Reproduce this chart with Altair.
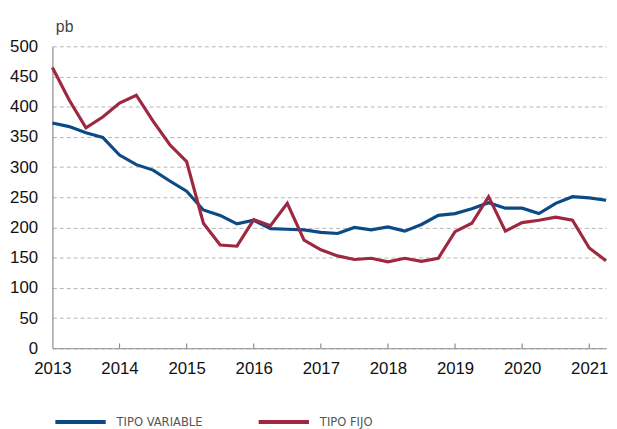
import altair as alt
import pandas as pd

# Quarterly observations, 2013 Q1 .. 2021 Q2
quarters = [2013 + q / 4 for q in range(34)]
tipo_variable = [373, 367, 357, 349, 320, 304, 295, 277, 260, 229, 220, 206,
                 212, 198, 197, 196, 192, 190, 200, 196, 201, 194, 205, 220,
                 223, 231, 241, 232, 232, 223, 240, 251, 249, 245]
tipo_fijo = [465, 411, 365, 383, 406, 419, 376, 337, 309, 207, 171, 169,
             213, 203, 240, 179, 163, 153, 147, 149, 143, 149, 144, 149,
             193, 207, 251, 194, 208, 212, 217, 212, 166, 145]
series = ["TIPO VARIABLE", "TIPO FIJO"]
colors = ["#0b4a85", "#9e2840"]
years = list(range(2013, 2022))
y_ticks = list(range(0, 501, 50))

df = pd.DataFrame({
    "t": quarters * 2,
    "v": tipo_variable + tipo_fijo,
    "s": [series[0]] * len(quarters) + [series[1]] * len(quarters),
})
ticks_df = pd.DataFrame({"t": years[1:], "y0": [0] * (len(years) - 1), "y1": [8] * (len(years) - 1)})

FONT = "Liberation Sans"
LEGEND_FONT = "DejaVu Sans Condensed, Roboto, sans-serif"

xscale = alt.Scale(domain=[2013, 2021.25], nice=False, zero=False)
yscale = alt.Scale(domain=[0, 500], nice=False)

xaxis = alt.Axis(values=years, format="d", grid=False, ticks=False,
                 labelFontSize=17, labelColor="#111", labelFont=FONT,
                 labelPadding=13, domainColor="#8c8c8c", domainWidth=1.2,
                 labelFlush=False, labelOverlap=False)
yaxis = alt.Axis(values=y_ticks, ticks=False, grid=True,
                 gridDash=[4, 3], gridColor="#b5b5b5", gridWidth=1,
                 labelFontSize=17, labelColor="#111", labelFont=FONT,
                 labelPadding=15, domainColor="#8c8c8c", domainWidth=1.2,
                 labelOverlap=False,
                 titleAngle=0, titleX=3, titleY=-20, titleAlign="left",
                 titleBaseline="middle", titleFontWeight="normal",
                 titleFontSize=16, titleColor="#444", titleFont=FONT)

lines = alt.Chart(df).mark_line(strokeWidth=3.2, strokeJoin="miter").encode(
    x=alt.X("t:Q", scale=xscale, title=None, axis=xaxis),
    y=alt.Y("v:Q", scale=yscale, title="pb", axis=yaxis),
    color=alt.Color("s:N", scale=alt.Scale(domain=series, range=colors), title=None,
                    legend=alt.Legend(orient="none", legendX=1, legendY=353,
                                      direction="horizontal", symbolType="stroke",
                                      symbolSize=2601, symbolStrokeWidth=4,
                                      labelFont=LEGEND_FONT, labelFontSize=13,
                                      labelColor="#555", labelOffset=9,
                                      columnPadding=48, padding=0)),
)

xticks = alt.Chart(ticks_df).mark_rule(color="#8c8c8c", strokeWidth=1.2).encode(
    x=alt.X("t:Q", scale=xscale, title=None, axis=xaxis),
    y=alt.Y("y0:Q", scale=yscale, title="pb", axis=yaxis),
    y2="y1:Q",
)

chart = alt.layer(lines, xticks).properties(
    width=561, height=306,
    autosize=alt.AutoSizeParams(type="none"),
    padding={"left": 45, "top": 36, "right": 3, "bottom": 79},
).configure(background="white").configure_view(stroke=None)

chart.save("out.html", embed_options={"renderer": "svg", "actions": False})
